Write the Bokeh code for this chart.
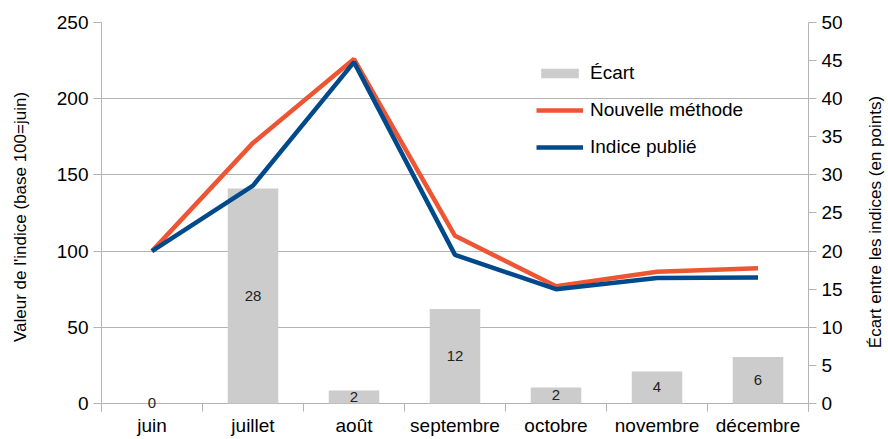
import math
from bokeh.plotting import figure
from bokeh.layouts import row
from bokeh.models import (Range1d, LinearAxis, FixedTicker, Legend, LegendItem,
                          ColumnDataSource, LabelSet)
from bokeh.embed import file_html
from bokeh.resources import INLINE
from bokeh.core.properties import value

months = ["juin", "juillet", "août", "septembre", "octobre", "novembre", "décembre"]
nouvelle = [100, 171, 226, 110, 77, 86.5, 88.7]
publie = [100, 143, 224, 97.5, 75, 82.3, 82.7]
ecart = [0, 28.2, 1.7, 12.4, 2.1, 4.2, 6.1]
left_ticks = [0, 50, 100, 150, 200, 250]
right_ticks = [0, 5, 10, 15, 20, 25, 30, 35, 40, 45, 50]
right_title = "Écart entre les indices (en points)"

FONT = "Liberation Sans"
xs = [i + 0.5 for i in range(len(months))]

src = ColumnDataSource(dict(
    x=xs, nouvelle=nouvelle, publie=publie, ecart=ecart,
    mid=[v / 2 for v in ecart], lab=[str(round(v)) for v in ecart],
))

# frame extends 8px below the zero line so the tick marks sit under it
p = figure(width=862, height=439, output_backend="svg", toolbar_location=None,
           x_range=Range1d(0, len(months)), y_range=Range1d(-5.25, 250),
           min_border_left=101, min_border_right=54, min_border_top=22,
           min_border_bottom=28)
p.extra_y_ranges = {"ecart": Range1d(-1.05, 50)}
p.outline_line_color = None
p.background_fill_color = "white"

bars = p.vbar(x="x", top="ecart", bottom=0, width=0.5, source=src, y_range_name="ecart",
              fill_color="#cccccc", line_color=None)
l1 = p.line(x="x", y="nouvelle", source=src, line_color="#ee5533", line_width=4.5)
l2 = p.line(x="x", y="publie", source=src, line_color="#004a8c", line_width=4.5)
labels = LabelSet(x="x", y="mid", text="lab", source=src, y_range_name="ecart",
                  text_align="center", text_baseline="middle", text_font_size="15px",
                  text_color="#222222", text_font=value(FONT), level="overlay")
p.add_layout(labels)

# axes
p.xgrid.grid_line_color = None
p.ygrid.grid_line_color = "#b3b3b3"
p.ygrid.ticker = FixedTicker(ticks=left_ticks)

xa = p.xaxis[0]
xa.ticker = FixedTicker(ticks=xs, minor_ticks=list(range(len(months) + 1)))
xa.major_label_overrides = {x: m for x, m in zip(xs, months)}
xa.major_tick_out = 0
xa.major_tick_in = 0
xa.minor_tick_out = 0
xa.minor_tick_in = 8
xa.minor_tick_line_color = "#b3b3b3"
xa.axis_line_color = None
xa.major_label_standoff = 3
xa.major_label_text_font_size = "19px"
xa.major_label_text_font = FONT
xa.major_label_text_color = "black"

ya = p.yaxis[0]
ya.ticker = FixedTicker(ticks=left_ticks)
ya.major_tick_out = 8
ya.major_tick_in = 0
ya.minor_tick_line_color = None
ya.major_tick_line_color = "#b3b3b3"
ya.axis_line_color = "#b3b3b3"
ya.major_label_standoff = 5
ya.major_label_text_font_size = "19px"
ya.major_label_text_font = FONT
ya.major_label_text_color = "black"
ya.axis_label = "Valeur de l'indice (base 100=juin)"
ya.axis_label_text_font_size = "17px"
ya.axis_label_text_font = FONT
ya.axis_label_text_font_style = "normal"
ya.axis_label_text_color = "black"
ya.axis_label_standoff = 24

ra = LinearAxis(y_range_name="ecart", ticker=FixedTicker(ticks=right_ticks))
ra.major_tick_out = 8
ra.major_tick_in = 0
ra.minor_tick_line_color = None
ra.major_tick_line_color = "#b3b3b3"
ra.axis_line_color = "#b3b3b3"
ra.major_label_standoff = 5
ra.major_label_text_font_size = "19px"
ra.major_label_text_font = FONT
ra.major_label_text_color = "black"
p.add_layout(ra, "right")

legend = Legend(items=[
    LegendItem(label="Écart", renderers=[bars]),
    LegendItem(label="Nouvelle méthode", renderers=[l1]),
    LegendItem(label="Indice publié", renderers=[l2]),
], location=(435, 253))
legend.border_line_color = None
legend.background_fill_alpha = 0
legend.label_text_font = FONT
legend.label_text_font_size = "19px"
legend.label_text_color = "black"
legend.glyph_width = 47
legend.glyph_height = 12
legend.label_height = 22
legend.spacing = 15
legend.label_standoff = 7
legend.padding = 10
p.add_layout(legend, "center")

# narrow strip holding the right-hand axis title, reading bottom-to-top
p2 = figure(width=26, height=439, output_backend="svg", toolbar_location=None,
            x_range=Range1d(0, 1), y_range=Range1d(0, 1),
            x_axis_location=None, y_axis_location=None,
            min_border_left=0, min_border_right=0, min_border_top=0,
            min_border_bottom=0)
p2.outline_line_color = None
p2.xgrid.grid_line_color = None
p2.ygrid.grid_line_color = None
p2.text(x=[0.5], y=[0.487], text=[right_title], angle=math.pi / 2,
        text_align="center", text_baseline="middle", text_font_size="17px",
        text_font=value(FONT), text_color="black")

layout = row(p, p2, spacing=0)
open("out.html", "w").write(file_html(layout, INLINE))
